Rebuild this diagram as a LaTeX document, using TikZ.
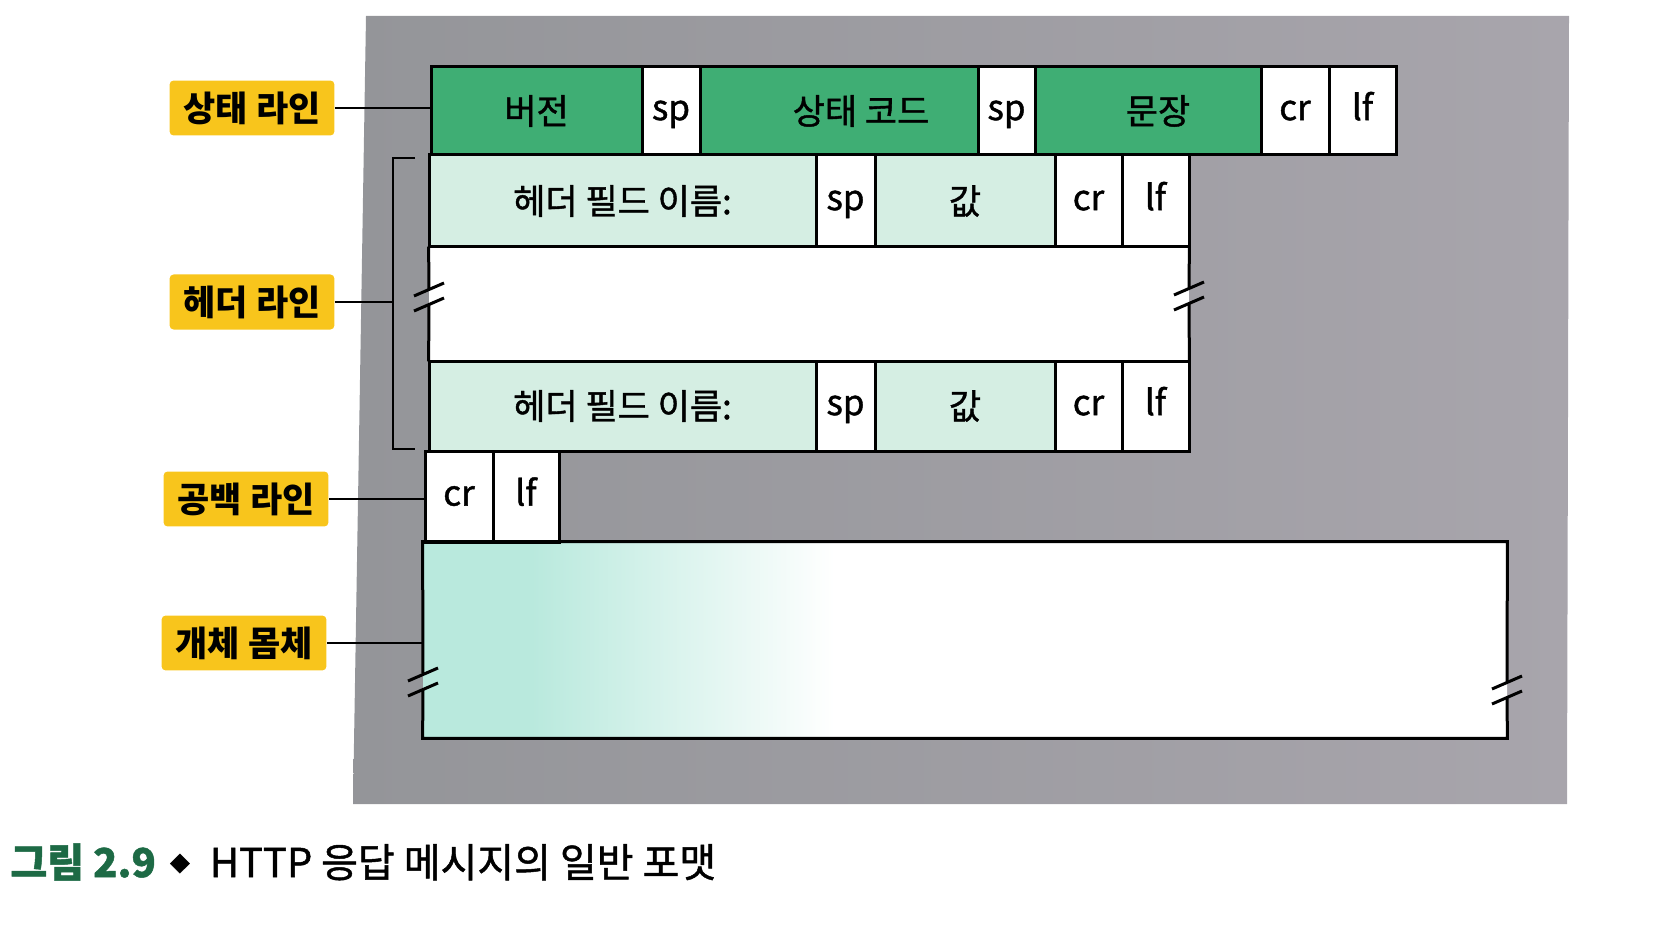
\documentclass[tikz,border=0pt]{standalone}
\usepackage{fontspec}
\setmainfont{Noto Sans CJK KR}
\newfontfamily\cellface{Noto Sans CJK KR}[FakeBold=1.2]
\usepackage{xcolor}
\usetikzlibrary{positioning}

\definecolor{stgreen}{HTML}{3FAE74}
\definecolor{hdmint}{HTML}{D5EEE3}
\definecolor{bodyaqua}{HTML}{B9E9DD}
\definecolor{hlyellow}{HTML}{F8C51C}
\definecolor{panelL}{HTML}{949599}
\definecolor{panelM}{HTML}{B8AEB9}
\definecolor{panelR}{HTML}{A8A5AC}
\definecolor{capgreen}{HTML}{1D6A45}

\newcommand{\cellfont}{\cellface\fontsize{17.5pt}{21pt}\selectfont}
\newcommand{\capfont}{\cellface\fontsize{20pt}{24pt}\selectfont}

\pgfdeclarehorizontalshading{bodyfade}{100bp}{color(0bp)=(bodyaqua); color(30bp)=(bodyaqua); color(37bp)=(bodyaqua!50!white); color(44bp)=(white); color(100bp)=(white)}

\begin{document}
\begin{tikzpicture}[x=0.5pt, y=-0.5pt,
  cell/.style={draw, line width=1.5pt, inner sep=0pt, font=\cellfont},
  latn/.style={text height=10.5pt, text depth=1.4pt},
  hang/.style={},
  lbl/.style={fill=hlyellow, rounded corners=2pt, inner xsep=7pt, inner ysep=5.5pt, font=\fontsize{17.5pt}{21pt}\selectfont\bfseries},
  edge/.style={line width=1.5pt},
  lead/.style={line width=1pt}]
  \useasboundingbox (0,0) rectangle (1676,925);

  % Gray backdrop
  \shade[left color=panelL, middle color=panelM, right color=panelR]
    (366,16) -- (1569,16) -- (1567,804) -- (353,804) -- cycle;

  % Open areas
  \node[shade, shading=bodyfade, inner sep=0pt, minimum width=542pt, minimum height=98pt] (body) at (965,640) {};
  \node[fill=white, inner sep=0pt, minimum width=380pt, minimum height=57pt] (blank) at (809,304) {};

  % Fields
  \foreach \nm/\xa/\xb/\ya/\yb/\txt/\clr/\sty in {
    ver/431/642/67/155/버전/stgreen/hang,
    sp1/642/700/67/155/sp/white/latn,
    code/700/978/67/155/\hspace*{22pt}상태 코드/stgreen/hang,
    sp2/978/1035/67/155/sp/white/latn,
    phr/1035/1261/67/155/\hspace*{10pt}문장/stgreen/hang,
    cr0/1261/1329/67/155/cr/white/latn,
    lf0/1329/1396/67/155/lf/white/latn,
    hn1/429/816/155/247/헤더 필드 이름:/hdmint/hang,
    hs1/816/875/155/247/sp/white/latn,
    hv1/875/1055/155/247/값/hdmint/hang,
    hc1/1055/1122/155/247/cr/white/latn,
    hl1/1122/1189/155/247/lf/white/latn,
    hn2/429/816/361/451/헤더 필드 이름:/hdmint/hang,
    hs2/816/875/361/451/sp/white/latn,
    hv2/875/1055/361/451/값/hdmint/hang,
    hc2/1055/1122/361/451/cr/white/latn,
    hl2/1122/1189/361/451/lf/white/latn,
    bcr/425/493/451/542/cr/white/latn,
    blf/493/559/451/542/lf/white/latn} {
    \node[cell, \sty, fill=\clr, minimum width={(\xb-\xa)*0.5pt}, minimum height={(\yb-\ya)*0.5pt}]
      (\nm) at ({(\xa+\xb)/2},{(\ya+\yb)/2}) {\txt};
  }

  % Broken edges
  \coordinate (brkA) at (429,297);
  \coordinate (brkB) at (1189,296);
  \coordinate (brkC) at (423,682);
  \coordinate (brkD) at (1507,690);
  \draw[edge] (blank.north west) -- ([yshift=3.75pt]brkA) ([yshift=-3.75pt]brkA) -- (blank.south west);
  \draw[edge] (blank.north east) -- ([yshift=3.75pt]brkB) ([yshift=-3.75pt]brkB) -- (blank.south east);
  \draw[edge] ([yshift=3.75pt]brkC) -- (body.north west) -- (body.north east) -- ([yshift=3.75pt]brkD)
    ([yshift=-3.75pt]brkD) -- (body.south east) -- (body.south west) -- ([yshift=-3.75pt]brkC);
  \foreach \b in {brkA,brkB,brkC,brkD} {
    \draw[edge] ([shift={(-7.5pt,0.5pt)}]\b) -- ([shift={(7.5pt,7pt)}]\b);
    \draw[edge] ([shift={(-7.5pt,-7pt)}]\b) -- ([shift={(7.5pt,-0.5pt)}]\b);
  }

  % Header bracket
  \coordinate (brtop) at (393,158);
  \coordinate (brbot) at (393,449);
  \draw[lead] ([xshift=11pt]brtop) -- (brtop) -- (brbot) -- ([xshift=11pt]brbot);

  % Labels
  \node[lbl] (lblstatus) at (252,108) {상태 라인};
  \node[lbl] (lblheader) at (252,302) {헤더 라인};
  \node[lbl] (lblblank) at (246,499) {공백 라인};
  \node[lbl] (lblbody) at (244,643) {개체 몸체};

  \draw[lead] (lblstatus.east) -- (lblstatus.east -| ver.west);
  \draw[lead] (lblheader.east) -- (lblheader.east -| brtop);
  \draw[lead] (lblblank.east) -- (lblblank.east -| bcr.west);
  \draw[lead] (lblbody.east) -- (lblbody.east -| body.west);

  % Caption
  \node[anchor=west, inner sep=0pt, font=\capfont] (cap) at (10,862)
    {{\fontsize{20pt}{24pt}\selectfont\bfseries\color{capgreen}그림 2.9}\hspace{7pt}\raisebox{3pt}{\fontsize{10pt}{10pt}\selectfont ◆}\hspace{10pt}HTTP 응답 메시지의 일반 포맷};
\end{tikzpicture}
\end{document}
